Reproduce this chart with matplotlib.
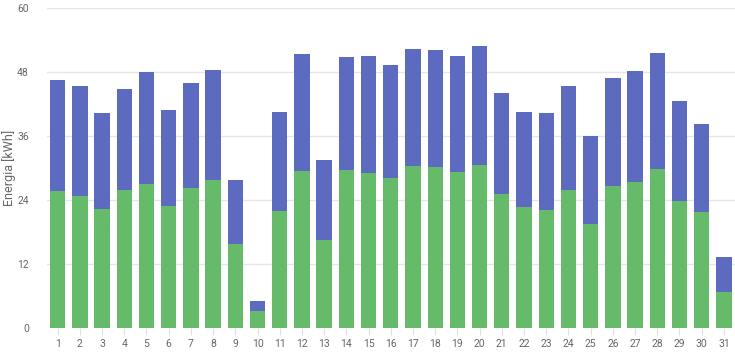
import matplotlib.pyplot as plt
import numpy as np

plt.rcParams['font.family'] = ['Roboto', 'DejaVu Sans']

days = list(range(1, 32))
green = [25.7, 24.8, 22.3, 25.9, 27.1, 22.9, 26.3, 27.8, 15.8, 3.2,
         22.0, 29.4, 16.5, 29.7, 29.1, 28.2, 30.4, 30.2, 29.3, 30.7,
         25.2, 22.7, 22.2, 25.9, 19.5, 26.7, 27.5, 29.8, 23.8, 21.7, 6.7]
total = [46.5, 45.4, 40.4, 44.9, 48.1, 41.0, 46.1, 48.5, 27.8, 5.1,
         40.6, 51.5, 31.5, 50.9, 51.1, 49.3, 52.4, 52.2, 51.1, 52.9,
         44.2, 40.6, 40.3, 45.4, 36.0, 47.0, 48.3, 51.6, 42.6, 38.3, 13.3]
blue = [t - g for t, g in zip(total, green)]
yticks = [0, 12, 24, 36, 48, 60]

fig = plt.figure(figsize=(7.35, 3.52), dpi=100)
ax = fig.add_axes([47/735, 1 - 328/352, 1 - 47/735, (328 - 8.5)/352])

ax.bar(days, green, width=0.69, color='#66bb6a', zorder=2)
ax.bar(days, blue, width=0.69, bottom=green, color='#5c6bc0', zorder=2)

ax.set_xlim(0.52, 31.5)
ax.set_ylim(0, 60)
ax.set_yticks(yticks)
ax.set_xticks(days)
ax.set_xticklabels([str(d) for d in days])
ax.grid(axis='y', color='#e6e6e6', linewidth=1, zorder=0)
for s in ax.spines.values():
    s.set_visible(False)
ax.tick_params(axis='y', length=0, pad=13, labelsize=7.5, labelcolor='#666666')
ax.tick_params(axis='x', length=5, width=0.8, color='#e0e0e0', pad=3,
               labelsize=7.5, labelcolor='#666666')
ax.set_ylabel('Energia [kWh]', fontsize=9, color='#666666', labelpad=1)

fig.savefig('out.png', dpi=100)
